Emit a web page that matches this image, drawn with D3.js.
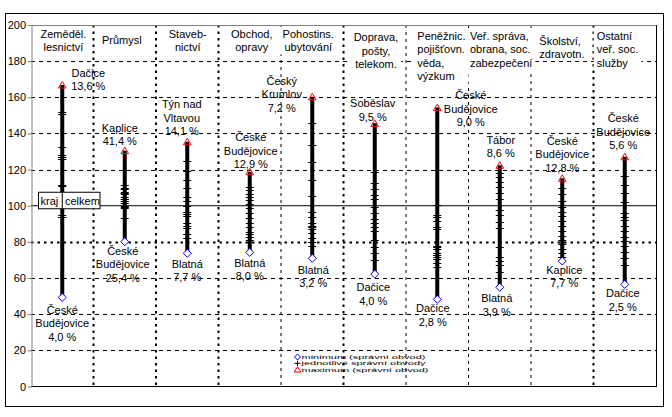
<!DOCTYPE html>
<html>
  <head>
    <meta charset="utf-8">
    <script src="https://d3js.org/d3.v7.min.js"></script>
    <title>Odvětví - rozpětí správních obvodů</title>
    <style>
      body { margin: 0; background: #fff; }
      text { font-family: 'Liberation Sans', Arial, sans-serif; font-size: 11px; fill: #000; }
    </style>
  </head>
  <body>
    <svg width="672" height="417"></svg>
    <script>
      // data
      const categories = ['Zeměděl. lesnictví', 'Průmysl', 'Stavebnictví', 'Obchod, opravy',
        'Pohostins. ubytování', 'Doprava, pošty, telekom.', 'Peněžnic. pojišťovn. věda, výzkum',
        'Veř. správa, obrana, soc. zabezpečení', 'Školství, zdravotn.', 'Ostatní veř. soc. služby'];
      const headerLines = [
        ['Zeměděl.', 'lesnictví'], ['Průmysl'], ['Staveb-', 'nictví'], ['Obchod,', 'opravy'],
        ['Pohostins.', 'ubytování'], ['Doprava,', 'pošty,', 'telekom.'],
        ['Peněžnic.', 'pojišťovn.', 'věda,', 'výzkum'], ['Veř. správa,', 'obrana, soc.', 'zabezpečení'],
        ['Školství,', 'zdravotn.'], ['Ostatní', 'veř. soc.', 'služby']];
      const maxValues = [166.8, 130.5, 135.4, 118.8, 160.3, 145.6, 154.3, 122.4, 115.2, 127.1];
      const minValues = [49.3, 80.1, 73.7, 74.2, 70.9, 62.2, 48.2, 54.9, 69.4, 56.5];
      const districtValues = [
        [151.7, 151, 150.6, 132.7, 127.9, 127, 126.8, 126, 125.7, 111.5, 110.9, 94.9, 94, 93.8, 93.6],
        [111.5, 110, 109.1, 107.8, 107, 106.5, 105, 104, 103.7, 102.5, 101.5, 100, 99.5, 98.5, 93],
        [125, 119.5, 114.2, 109.7, 105, 102.6, 99.9, 96.7, 95.4, 94.3, 90.3, 88.8, 87.7, 84.6, 82],
        [110.5, 108.7, 106.5, 105, 103.2, 101, 98.6, 95.8, 93.4, 90.6, 88.1, 85.7, 84.2, 82.9, 81],
        [145.6, 133.6, 124.4, 114.2, 105.4, 96.7, 94, 90.3, 89, 88, 87, 84.8, 82, 80, 77.5],
        [118.8, 112.4, 109.1, 105.9, 103.6, 99.5, 95.8, 92.5, 90.3, 88.4, 86.2, 81, 77.3, 73.7, 70],
        [100.4, 95, 93.6, 91.7, 88.4, 87.3, 78, 77, 76, 74, 72.6, 71.5, 70.4, 68.2, 66.3],
        [118.3, 115.7, 113.3, 110.5, 107.2, 103.6, 97.6, 94.9, 91.2, 87.5, 77.3, 71.8, 69.6, 67.2, 63.5],
        [109.6, 106.3, 102.6, 99.5, 96.7, 94.3, 91.6, 89, 86, 83.4, 81, 78.7, 76.1, 73.7, 71.8],
        [116.6, 111.5, 106.9, 101.9, 95.8, 94, 92.1, 89, 86, 82.9, 80.5, 77.9, 74.6, 70.9, 67.2]];
      const maxLabels = [
        ['Dačice', '13,6 %'], ['Kaplice', '41,4 %'], ['Týn nad', 'Vltavou', '14,1 %'],
        ['České', 'Budějovice', '12,9 %'], ['Český', 'Krumlov', '7,2 %'], ['Soběslav', '9,5 %'],
        ['České', 'Budějovice', '9,0 %'], ['Tábor', '8,6 %'], ['České', 'Budějovice', '12,8 %'],
        ['České', 'Budějovice', '5,6 %']];
      const minLabels = [
        ['České', 'Budějovice', '4,0 %'], ['České', 'Budějovice', '25,4 %'], ['Blatná', '7,7 %'],
        ['Blatná', '8,0 %'], ['Blatná', '3,2 %'], ['Dačice', '4,0 %'], ['Dačice', '2,8 %'],
        ['Blatná', '3,9 %'], ['Kaplice', '7,7 %'], ['Dačice', '2,5 %']];
      const yTicks = [0, 20, 40, 60, 80, 100, 120, 140, 160, 180, 200];
      const regionValue = 100;
      const legendItems = ['minimum (správní obvod)', 'jednotlivé správní obvody', 'maximum (správní obvod)'];

      // layout (hand placed like in the original)
      const maxNudge = [[26, -12], [-5, -22.6], [-5.5, -37.5], [1, -34.5], [-30.5, -16],
        [-2, -20], [33.5, -12], [1, -25.3], [0, -37.6], [-1.5, -38.5]];
      const minNudge = [[0, 12.6], [-2, 9], [0, 10.7], [0, 10.3], [1, 11.7],
        [-1.5, 13.2], [-4.5, 9], [-3, 11], [2, 9], [-2, 9]];
      const headerPos = [
        {a: 'middle', dx: 1.2, y: 34}, {a: 'middle', dx: -3, y: 40.5}, {a: 'middle', dx: 0.5, y: 34},
        {a: 'middle', dx: 2, y: 34}, {a: 'middle', dx: -4, y: 34}, {a: 'middle', dx: 1.2, y: 37.5},
        {a: 'start', dx: 11.3, y: 36}, {a: 'start', dx: 1.5, y: 36}, {a: 'start', dx: 8.3, y: 40.7},
        {a: 'start', dx: 3.2, y: 36}];
      const thickDividers = [1, 2, 3, 5, 9];   // boundaries drawn with heavy dots

      const svg = d3.select('svg');
      const plot = {left: 31, right: 656, top: 25, bottom: 386.5};
      const lineH = 13.5;

      const x = d3.scaleBand().domain(categories).range([plot.left, plot.right]);
      const y = d3.scaleLinear().domain([0, 200]).range([plot.bottom, plot.top]);
      const cx = i => x(categories[i]) + x.bandwidth() / 2;

      // outer frame
      svg.append('rect').attr('x', 5.5).attr('y', 13.5).attr('width', 658).attr('height', 393)
        .attr('fill', '#fff').attr('stroke', '#000');

      // horizontal grid
      svg.append('g').selectAll('line')
        .data(yTicks.filter(v => v > 0 && v < 200 && v !== regionValue))
        .join('line')
          .attr('x1', plot.left).attr('x2', plot.right)
          .attr('y1', d => Math.round(y(d)) + 0.5).attr('y2', d => Math.round(y(d)) + 0.5)
          .attr('stroke', '#000')
          .attr('stroke-width', d => d === 80 ? 2 : 1)
          .attr('stroke-dasharray', d => d === 80 ? '2.5,4' : '4,4');

      // vertical category dividers
      svg.append('g').selectAll('line')
        .data(d3.range(1, categories.length))
        .join('line')
          .attr('x1', i => x(categories[i])).attr('x2', i => x(categories[i]))
          .attr('y1', plot.top).attr('y2', plot.bottom)
          .attr('stroke', '#000')
          .attr('stroke-width', i => thickDividers.includes(i) ? 2 : 1)
          .attr('stroke-dasharray', i => thickDividers.includes(i) ? '2.5,4' : '3,4');

      // plot border + axes
      svg.append('line').attr('x1', plot.left).attr('x2', plot.right)
        .attr('y1', plot.top + 0.5).attr('y2', plot.top + 0.5).attr('stroke', '#808080');
      svg.append('line').attr('x1', plot.right + 0.5).attr('x2', plot.right + 0.5)
        .attr('y1', plot.top).attr('y2', plot.bottom).attr('stroke', '#000');
      svg.append('line').attr('x1', plot.left).attr('x2', plot.right)
        .attr('y1', y(regionValue)).attr('y2', y(regionValue)).attr('stroke', '#000');
      svg.append('line').attr('x1', plot.left).attr('x2', plot.right + 1)
        .attr('y1', plot.bottom).attr('y2', plot.bottom).attr('stroke', '#000');

      const yAxis = d3.axisLeft(y).tickValues(yTicks).tickSize(4).tickSizeOuter(0).tickPadding(1.5);
      const yAxisG = svg.append('g').attr('transform', `translate(${plot.left + 0.5},0)`).call(yAxis);
      yAxisG.select('.domain').attr('stroke', '#808080');
      yAxisG.selectAll('.tick line').attr('stroke', '#808080');
      yAxisG.attr('font-family', null).attr('font-size', null);

      // category headers with white boxes
      headerLines.forEach((lines, i) => {
        const p = headerPos[i];
        const hx = p.a === 'middle' ? cx(i) + p.dx : x(categories[i]) + p.dx;
        const hg = svg.append('g');
        const t = hg.append('text').attr('text-anchor', p.a);
        lines.forEach((s, k) => t.append('tspan').attr('x', hx).attr('y', p.y + k * lineH).attr('dy', '0.35em').text(s));
        const b = t.node().getBBox();
        hg.insert('rect', 'text').attr('x', b.x - 3).attr('y', b.y - 1)
          .attr('width', b.width + 6).attr('height', b.height + 2).attr('fill', '#fff');
      });

      // range lines
      svg.append('g').selectAll('line')
        .data(categories)
        .join('line')
          .attr('x1', (d, i) => cx(i)).attr('x2', (d, i) => cx(i))
          .attr('y1', (d, i) => y(minValues[i])).attr('y2', (d, i) => y(maxValues[i]))
          .attr('stroke', '#000').attr('stroke-width', 4);

      // individual districts
      const ticks = districtValues.flatMap((vals, i) => vals.map(v => ({i, v})));
      svg.append('g').selectAll('line')
        .data(ticks)
        .join('line')
          .attr('x1', d => cx(d.i) - 4).attr('x2', d => cx(d.i) + 4)
          .attr('y1', d => Math.round(y(d.v)) + 0.5).attr('y2', d => Math.round(y(d.v)) + 0.5)
          .attr('stroke', '#000');

      const diamond = 'M0,-4L4,0L0,4L-4,0Z';
      const triangle = 'M0,-3.5L3.8,3L-3.8,3Z';

      svg.append('g').selectAll('path')
        .data(minValues)
        .join('path')
          .attr('d', diamond)
          .attr('transform', (d, i) => `translate(${cx(i)},${y(d)})`)
          .attr('fill', '#fff').attr('stroke', '#0000ff');

      svg.append('g').selectAll('path')
        .data(maxValues)
        .join('path')
          .attr('d', triangle)
          .attr('transform', (d, i) => `translate(${cx(i)},${y(d)})`)
          .attr('fill', 'none').attr('stroke', '#ff0000');

      // data labels
      function label(lines, lx, ly) {
        const t = svg.append('text').attr('text-anchor', 'middle');
        lines.forEach((s, k) => t.append('tspan').attr('x', lx).attr('y', ly + k * lineH).attr('dy', '0.35em').text(s));
      }
      maxLabels.forEach((l, i) => label(l, cx(i) + maxNudge[i][0], y(maxValues[i]) + maxNudge[i][1]));
      minLabels.forEach((l, i) => label(l, cx(i) + minNudge[i][0], y(minValues[i]) + minNudge[i][1]));

      // "kraj celkem" box on the 100 line
      const ky = y(regionValue) - 14;
      svg.append('rect').attr('x', 38.5).attr('y', ky + 0.5).attr('width', 61.5).attr('height', 16.5)
        .attr('fill', '#fff').attr('stroke', '#000');
      svg.append('line').attr('x1', cx(0)).attr('x2', cx(0)).attr('y1', ky + 1).attr('y2', ky + 16.5)
        .attr('stroke', '#000');
      const kt = svg.append('text').attr('y', ky + 9).attr('dy', '0.35em');
      kt.append('tspan').attr('x', 40.5).text('kraj');
      kt.append('tspan').attr('x', 65).text('celkem');

      // legend (squeezed rows, as in the original)
      const lg = svg.append('g').attr('transform', 'translate(297.5,357)');
      legendItems.forEach((s, k) => {
        lg.append('text')
          .attr('transform', `translate(4,${k * 6.3}) scale(1,0.5)`)
          .attr('dy', '0.35em').text(s);
      });
      lg.append('path').attr('d', 'M0,-3L3,0L0,3L-3,0Z').attr('fill', '#fff').attr('stroke', '#0000ff');
      lg.append('path').attr('d', 'M-3,6.3H3M0,3.6V9').attr('stroke', '#000');
      lg.append('path').attr('d', 'M0,9.6L3.3,15L-3.3,15Z').attr('fill', 'none').attr('stroke', '#ff0000');
    </script>
  </body>
</html>
